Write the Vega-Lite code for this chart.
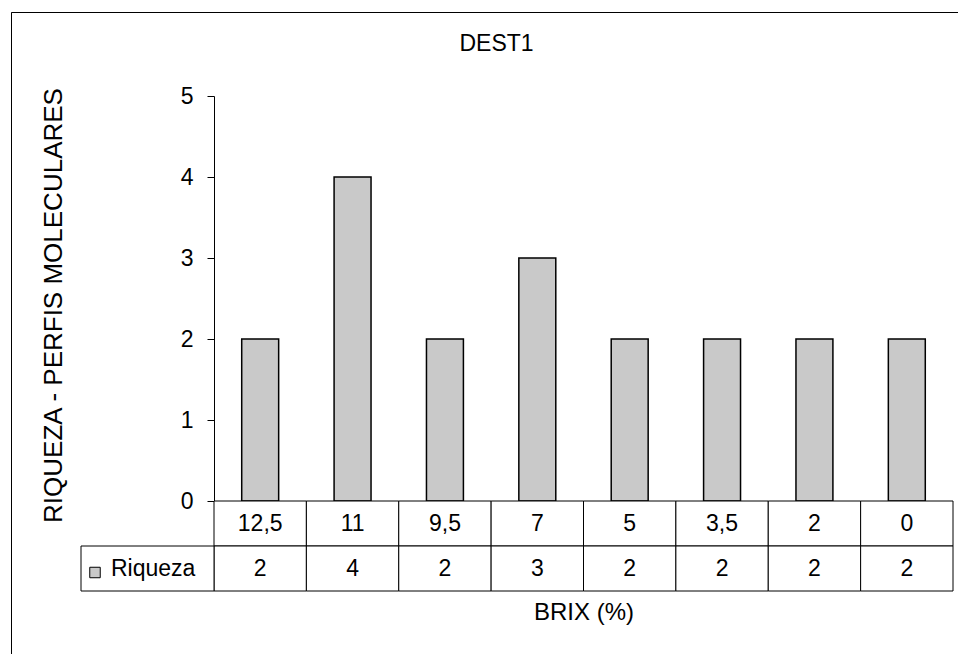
{
  "$schema": "https://vega.github.io/schema/vega-lite/v6.json",
  "width": 947,
  "height": 642,
  "autosize": {"type": "none"},
  "padding": {"left": 11, "top": 12, "right": 0, "bottom": 0},
  "background": "white",
  "title": {
    "text": "DEST1",
    "offset": -44,
    "dx": 12,
    "font": "Liberation Sans",
    "fontSize": 23,
    "fontWeight": "normal",
    "color": "black"
  },
  "config": {
    "font": "Liberation Sans",
    "view": {"stroke": "black", "strokeWidth": 1, "strokeDash": [947, 1589, 642, 1000]},
    "text": {"font": "Liberation Sans", "fontSize": 23, "color": "black"}
  },
  "datasets": {
    "riqueza": [
      {"brix": "12,5", "riqueza": 2},
      {"brix": "11", "riqueza": 4},
      {"brix": "9,5", "riqueza": 2},
      {"brix": "7", "riqueza": 3},
      {"brix": "5", "riqueza": 2},
      {"brix": "3,5", "riqueza": 2},
      {"brix": "2", "riqueza": 2},
      {"brix": "0", "riqueza": 2}
    ],
    "serie": [{"serie": "Riqueza"}]
  },
  "resolve": {
    "scale": {"x": "independent", "y": "independent"},
    "axis": {"x": "independent", "y": "independent"}
  },
  "layer": [
    {
      "data": {"name": "riqueza"},
      "mark": {"type": "bar", "fill": "#c9c9c9", "stroke": "black", "strokeWidth": 1.5, "width": {"band": 0.4}},
      "encoding": {
        "x": {
          "field": "brix", "type": "nominal", "sort": null,
          "scale": {"type": "band", "domain": ["12,5", "11", "9,5", "7", "5", "3,5", "2", "0"], "range": [203, 942], "paddingInner": 0, "paddingOuter": 0},
          "axis": {
            "orient": "bottom", "offset": -63, "labels": false, "ticks": false, "domain": false, "grid": false,
            "title": "BRIX (%)", "titlePadding": 9, "titleFont": "Liberation Sans", "titleFontSize": 24,
            "titleFontWeight": "normal", "titleColor": "black"
          }
        },
        "y": {
          "field": "riqueza", "type": "quantitative",
          "scale": {"domain": [0, 5], "range": [489, 84], "nice": false, "zero": true},
          "axis": {
            "orient": "left", "offset": -203, "values": [0, 1, 2, 3, 4, 5], "grid": false,
            "tickSize": 7, "tickColor": "black", "domainColor": "black",
            "labelPadding": 14, "labelFont": "Liberation Sans", "labelFontSize": 23, "labelColor": "black",
            "title": "RIQUEZA - PERFIS MOLECULARES", "titleFont": "Liberation Sans", "titleFontSize": 26,
            "titleFontWeight": "normal", "titleColor": "black", "titleX": -161, "titleY": 293, "titleBaseline": "middle"
          }
        }
      }
    },
    {
      "data": {"name": "riqueza"},
      "mark": {"type": "rect", "fill": "white", "stroke": "black", "strokeWidth": 1},
      "encoding": {
        "x": {"field": "brix", "type": "nominal", "sort": null, "axis": null,
          "scale": {"type": "band", "domain": ["12,5", "11", "9,5", "7", "5", "3,5", "2", "0"], "range": [203, 942], "paddingInner": 0, "paddingOuter": 0}},
        "y": {"datum": "BRIX", "type": "nominal", "axis": null,
          "scale": {"type": "band", "domain": ["BRIX", "Riqueza"], "range": [489, 579], "paddingInner": 0, "paddingOuter": 0}}
      }
    },
    {
      "data": {"name": "riqueza"},
      "mark": {"type": "text", "baseline": "middle", "align": "center"},
      "encoding": {
        "x": {"field": "brix", "type": "nominal", "sort": null, "axis": null,
          "scale": {"type": "band", "domain": ["12,5", "11", "9,5", "7", "5", "3,5", "2", "0"], "range": [203, 942], "paddingInner": 0, "paddingOuter": 0}},
        "y": {"datum": "BRIX", "type": "nominal", "axis": null,
          "scale": {"type": "band", "domain": ["BRIX", "Riqueza"], "range": [489, 579], "paddingInner": 0, "paddingOuter": 0}},
        "text": {"field": "brix"}
      }
    },
    {
      "data": {"name": "riqueza"},
      "mark": {"type": "rect", "fill": "white", "stroke": "black", "strokeWidth": 1},
      "encoding": {
        "x": {"field": "brix", "type": "nominal", "sort": null, "axis": null,
          "scale": {"type": "band", "domain": ["12,5", "11", "9,5", "7", "5", "3,5", "2", "0"], "range": [203, 942], "paddingInner": 0, "paddingOuter": 0}},
        "y": {"datum": "Riqueza", "type": "nominal", "axis": null,
          "scale": {"type": "band", "domain": ["BRIX", "Riqueza"], "range": [489, 579], "paddingInner": 0, "paddingOuter": 0}}
      }
    },
    {
      "data": {"name": "riqueza"},
      "mark": {"type": "text", "baseline": "middle", "align": "center"},
      "encoding": {
        "x": {"field": "brix", "type": "nominal", "sort": null, "axis": null,
          "scale": {"type": "band", "domain": ["12,5", "11", "9,5", "7", "5", "3,5", "2", "0"], "range": [203, 942], "paddingInner": 0, "paddingOuter": 0}},
        "y": {"datum": "Riqueza", "type": "nominal", "axis": null,
          "scale": {"type": "band", "domain": ["BRIX", "Riqueza"], "range": [489, 579], "paddingInner": 0, "paddingOuter": 0}},
        "text": {"field": "riqueza", "type": "quantitative"}
      }
    },
    {
      "data": {"name": "serie"},
      "mark": {"type": "rect", "fill": "white", "stroke": "black", "strokeWidth": 1},
      "encoding": {
        "x": {"field": "serie", "type": "nominal", "axis": null,
          "scale": {"type": "band", "domain": ["Riqueza"], "range": [70, 203], "paddingInner": 0, "paddingOuter": 0}},
        "y": {"datum": "Riqueza", "type": "nominal", "axis": null,
          "scale": {"type": "band", "domain": ["BRIX", "Riqueza"], "range": [489, 579], "paddingInner": 0, "paddingOuter": 0}}
      }
    },
    {
      "data": {"name": "serie"},
      "mark": {"type": "square", "size": 110, "fill": "#c9c9c9", "stroke": "black", "strokeWidth": 1, "opacity": 1, "xOffset": 14, "yOffset": 4},
      "encoding": {
        "x": {"field": "serie", "type": "nominal", "axis": null, "bandPosition": 0,
          "scale": {"type": "band", "domain": ["Riqueza"], "range": [70, 203], "paddingInner": 0, "paddingOuter": 0}},
        "y": {"datum": "Riqueza", "type": "nominal", "axis": null,
          "scale": {"type": "band", "domain": ["BRIX", "Riqueza"], "range": [489, 579], "paddingInner": 0, "paddingOuter": 0}}
      }
    },
    {
      "data": {"name": "serie"},
      "mark": {"type": "text", "baseline": "middle", "align": "left", "dx": 30},
      "encoding": {
        "x": {"field": "serie", "type": "nominal", "axis": null, "bandPosition": 0,
          "scale": {"type": "band", "domain": ["Riqueza"], "range": [70, 203], "paddingInner": 0, "paddingOuter": 0}},
        "y": {"datum": "Riqueza", "type": "nominal", "axis": null,
          "scale": {"type": "band", "domain": ["BRIX", "Riqueza"], "range": [489, 579], "paddingInner": 0, "paddingOuter": 0}},
        "text": {"field": "serie"}
      }
    }
  ]
}
